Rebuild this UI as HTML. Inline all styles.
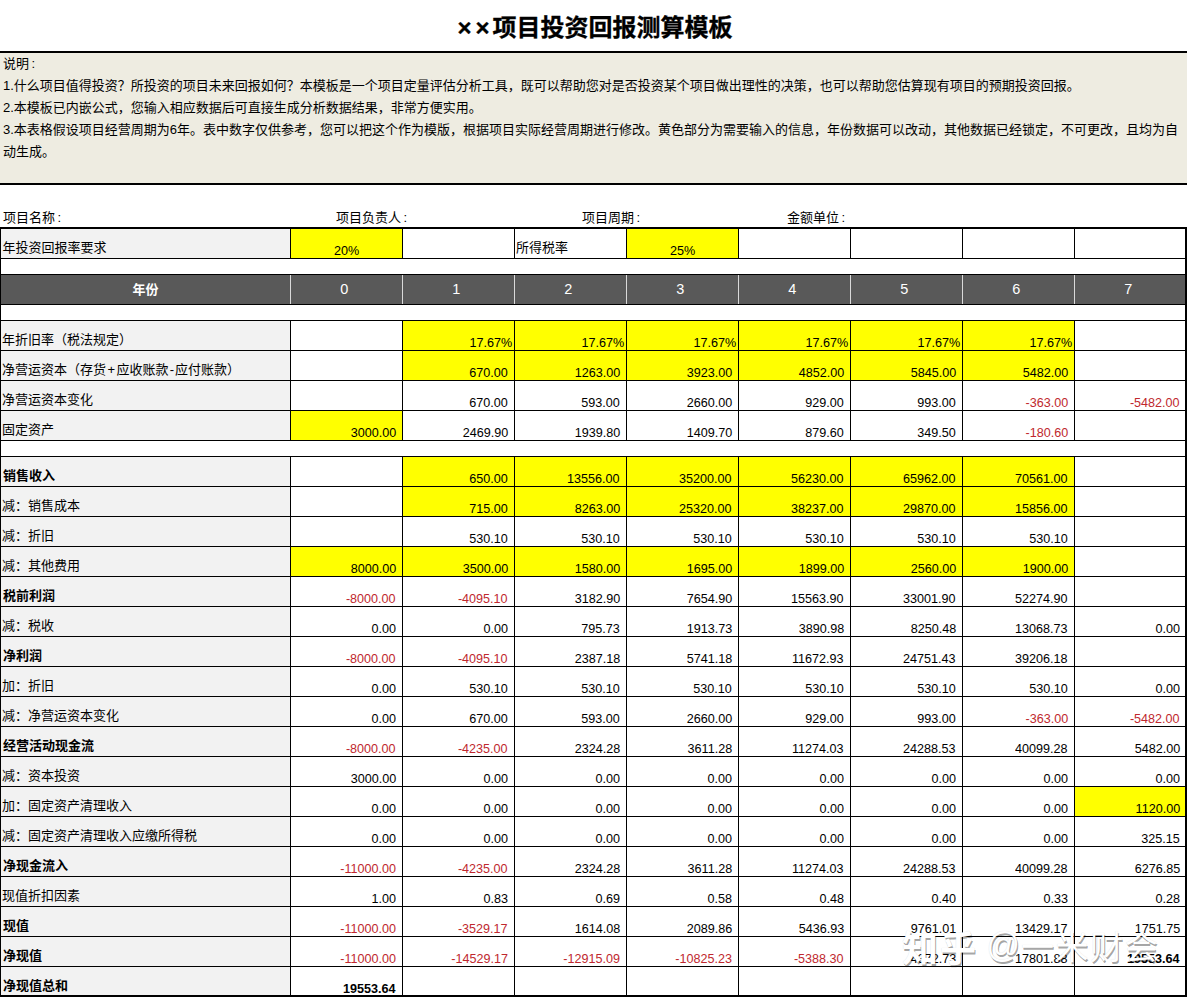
<!DOCTYPE html>
<html lang="zh-CN"><head><meta charset="utf-8"><title>××项目投资回报测算模板</title>
<style>
html,body{margin:0;padding:0;background:#fff}
body{width:1187px;height:997px;overflow:hidden;position:relative;font-family:"Liberation Sans","Noto Sans CJK SC",sans-serif;color:#000}
div,i{position:absolute;box-sizing:border-box;display:block}
.title{-webkit-text-stroke:.3px #000;left:0;top:9.5px;width:1187px;text-align:center;font-size:24px;font-weight:bold;line-height:36px;height:36px;padding-left:3px;white-space:nowrap}
.title .xx{letter-spacing:4px;margin-right:-1px}
.desc{left:0;top:51px;width:1187px;height:134px;background:#eeece1;border-top:2px solid #000;border-bottom:2px solid #000;font-size:13px;line-height:22px;padding:0 0 0 3px}
.desc .in{position:relative;top:-0.5px}
.desc p{margin:0;position:static}
.info{top:207.6px;height:20px;line-height:20px;font-size:13px;white-space:nowrap}
.lab{left:1px;width:289px;background:#f2f2f2;font-size:13px;line-height:20px;padding:9px 0 0 1px;white-space:nowrap;overflow:hidden}
.lab.wh{background:#fff}
.bd{font-weight:bold}
.lab.bd{padding-left:2px}
.co{margin-left:2.5px}.pl{margin:0 1.5px}.mi{margin:0 1px}
.num{font-size:13.33px;text-align:right;padding-right:6px;white-space:nowrap}
.num span{position:absolute;right:6.2px;bottom:-.5px;line-height:16px;transform:scaleX(.945);transform-origin:100% 50%}
.num.pc span{right:1.8px}
.num.ctr span{right:auto;left:0;width:100%;text-align:center;transform-origin:50% 50%}
.yel{background:#ffff00}
.red{color:#c0282e}
.hc{top:275px;height:29px;line-height:29px;text-align:center;color:#fff;font-size:13px}
.hn{font-size:14.5px;padding-right:3.4px}
.hc.bd{padding-left:1px}
.wm{left:0;top:0;width:1187px;height:997px;color:#fff;white-space:nowrap;text-shadow:1px 2px .6px rgba(0,0,0,.37),0 0 1px rgba(0,0,0,.14);pointer-events:none}
.wm span{position:absolute;display:block;line-height:44px;height:44px}
.wm .zh{left:902px;top:927.5px;font-size:36px;font-weight:bold;letter-spacing:2px}
.wm .at{left:986.5px;top:924px;font-size:33px;transform:scale(1,1.05);transform-origin:50% 70%}
.wm .nm{left:1021px;top:925.5px;font-size:33px;letter-spacing:1.6px}
</style></head>
<body>
<div class="title"><span class="xx">××</span>项目投资回报测算模板</div>
<div class="desc"><div class="in"><p>说明<span class="co">:</span></p><p>1.什么项目值得投资？所投资的项目未来回报如何？本模板是一个项目定量评估分析工具，既可以帮助您对是否投资某个项目做出理性的决策，也可以帮助您估算现有项目的预期投资回报。</p><p>2.本模板已内嵌公式，您输入相应数据后可直接生成分析数据结果，非常方便实用。</p><p>3.本表格假设项目经营周期为6年。表中数字仅供参考，您可以把这个作为模版，根据项目实际经营周期进行修改。黄色部分为需要输入的信息，年份数据可以改动，其他数据已经锁定，不可更改，且均为自动生成。</p></div></div>
<div class="info" style="left:3px">项目名称<span class="co">:</span></div>
<div class="info" style="left:336px">项目负责人<span class="co">:</span></div>
<div class="info" style="left:582px">项目周期<span class="co">:</span></div>
<div class="info" style="left:787px">金额单位<span class="co">:</span></div>
<div class="lab" style="top:229px;height:29px;padding-left:1.6px">年投资回报率要求</div>
<div class="num yel ctr" style="left:291px;top:229px;width:111px;height:29px"><span>20%</span></div>
<div class="lab wh" style="left:515px;top:229px;width:111px;height:29px">所得税率</div>
<div class="num yel ctr" style="left:627px;top:229px;width:111px;height:29px"><span>25%</span></div>
<i style="left:0px;top:258px;width:1186px;height:1px;background:#000"></i>
<i style="left:290px;top:229px;width:1px;height:29px;background:#000"></i>
<i style="left:402px;top:229px;width:1px;height:29px;background:#000"></i>
<i style="left:514px;top:229px;width:1px;height:29px;background:#000"></i>
<i style="left:626px;top:229px;width:1px;height:29px;background:#000"></i>
<i style="left:738px;top:229px;width:1px;height:29px;background:#000"></i>
<i style="left:850px;top:229px;width:1px;height:29px;background:#000"></i>
<i style="left:962px;top:229px;width:1px;height:29px;background:#000"></i>
<i style="left:1074px;top:229px;width:1px;height:29px;background:#000"></i>
<div class="hdr" style="left:0px;top:274px;width:1186px;height:31px;background:#595959;"></div>
<div class="hc bd" style="left:0;width:290px">年份</div>
<div class="hc hn" style="left:290px;width:112px">0</div>
<div class="hc hn" style="left:402px;width:112px">1</div>
<div class="hc hn" style="left:514px;width:112px">2</div>
<div class="hc hn" style="left:626px;width:112px">3</div>
<div class="hc hn" style="left:738px;width:112px">4</div>
<div class="hc hn" style="left:850px;width:112px">5</div>
<div class="hc hn" style="left:962px;width:112px">6</div>
<div class="hc hn" style="left:1074px;width:112px">7</div>
<i style="left:290px;top:275px;width:1px;height:29px;background:#d9d9d9"></i>
<i style="left:402px;top:275px;width:1px;height:29px;background:#d9d9d9"></i>
<i style="left:514px;top:275px;width:1px;height:29px;background:#d9d9d9"></i>
<i style="left:626px;top:275px;width:1px;height:29px;background:#d9d9d9"></i>
<i style="left:738px;top:275px;width:1px;height:29px;background:#d9d9d9"></i>
<i style="left:850px;top:275px;width:1px;height:29px;background:#d9d9d9"></i>
<i style="left:962px;top:275px;width:1px;height:29px;background:#d9d9d9"></i>
<i style="left:1074px;top:275px;width:1px;height:29px;background:#d9d9d9"></i>
<i style="left:0px;top:274px;width:1186px;height:1px;background:#000"></i>
<i style="left:0px;top:304px;width:1186px;height:1px;background:#000"></i>
<div class="lab" style="top:321px;height:29px">年折旧率（税法规定）</div>
<div class="num yel pc" style="left:403px;top:321px;width:111px;height:29px"><span>17.67%</span></div>
<div class="num yel pc" style="left:515px;top:321px;width:111px;height:29px"><span>17.67%</span></div>
<div class="num yel pc" style="left:627px;top:321px;width:111px;height:29px"><span>17.67%</span></div>
<div class="num yel pc" style="left:739px;top:321px;width:111px;height:29px"><span>17.67%</span></div>
<div class="num yel pc" style="left:851px;top:321px;width:111px;height:29px"><span>17.67%</span></div>
<div class="num yel pc" style="left:963px;top:321px;width:111px;height:29px"><span>17.67%</span></div>
<div class="lab" style="top:351px;height:29px">净营运资本（存货<span class="pl">+</span>应收账款<span class="mi">-</span>应付账款）</div>
<div class="num yel" style="left:403px;top:351px;width:111px;height:29px"><span>670.00</span></div>
<div class="num yel" style="left:515px;top:351px;width:111px;height:29px"><span>1263.00</span></div>
<div class="num yel" style="left:627px;top:351px;width:111px;height:29px"><span>3923.00</span></div>
<div class="num yel" style="left:739px;top:351px;width:111px;height:29px"><span>4852.00</span></div>
<div class="num yel" style="left:851px;top:351px;width:111px;height:29px"><span>5845.00</span></div>
<div class="num yel" style="left:963px;top:351px;width:111px;height:29px"><span>5482.00</span></div>
<div class="lab" style="top:381px;height:29px">净营运资本变化</div>
<div class="num" style="left:403px;top:381px;width:111px;height:29px"><span>670.00</span></div>
<div class="num" style="left:515px;top:381px;width:111px;height:29px"><span>593.00</span></div>
<div class="num" style="left:627px;top:381px;width:111px;height:29px"><span>2660.00</span></div>
<div class="num" style="left:739px;top:381px;width:111px;height:29px"><span>929.00</span></div>
<div class="num" style="left:851px;top:381px;width:111px;height:29px"><span>993.00</span></div>
<div class="num red" style="left:963px;top:381px;width:111px;height:29px"><span>-363.00</span></div>
<div class="num red" style="left:1075px;top:381px;width:111px;height:29px"><span>-5482.00</span></div>
<div class="lab" style="top:411px;height:29px">固定资产</div>
<div class="num yel" style="left:291px;top:411px;width:111px;height:29px"><span>3000.00</span></div>
<div class="num" style="left:403px;top:411px;width:111px;height:29px"><span>2469.90</span></div>
<div class="num" style="left:515px;top:411px;width:111px;height:29px"><span>1939.80</span></div>
<div class="num" style="left:627px;top:411px;width:111px;height:29px"><span>1409.70</span></div>
<div class="num" style="left:739px;top:411px;width:111px;height:29px"><span>879.60</span></div>
<div class="num" style="left:851px;top:411px;width:111px;height:29px"><span>349.50</span></div>
<div class="num red" style="left:963px;top:411px;width:111px;height:29px"><span>-180.60</span></div>
<i style="left:0px;top:320px;width:1186px;height:1px;background:#000"></i>
<i style="left:0px;top:350px;width:1186px;height:1px;background:#000"></i>
<i style="left:0px;top:380px;width:1186px;height:1px;background:#000"></i>
<i style="left:0px;top:410px;width:1186px;height:1px;background:#000"></i>
<i style="left:0px;top:440px;width:1186px;height:1px;background:#000"></i>
<i style="left:290px;top:320px;width:1px;height:121px;background:#000"></i>
<i style="left:402px;top:320px;width:1px;height:121px;background:#000"></i>
<i style="left:514px;top:320px;width:1px;height:121px;background:#000"></i>
<i style="left:626px;top:320px;width:1px;height:121px;background:#000"></i>
<i style="left:738px;top:320px;width:1px;height:121px;background:#000"></i>
<i style="left:850px;top:320px;width:1px;height:121px;background:#000"></i>
<i style="left:962px;top:320px;width:1px;height:121px;background:#000"></i>
<i style="left:1074px;top:320px;width:1px;height:121px;background:#000"></i>
<div class="lab bd" style="top:457px;height:29px">销售收入</div>
<div class="num yel" style="left:403px;top:457px;width:111px;height:29px"><span>650.00</span></div>
<div class="num yel" style="left:515px;top:457px;width:111px;height:29px"><span>13556.00</span></div>
<div class="num yel" style="left:627px;top:457px;width:111px;height:29px"><span>35200.00</span></div>
<div class="num yel" style="left:739px;top:457px;width:111px;height:29px"><span>56230.00</span></div>
<div class="num yel" style="left:851px;top:457px;width:111px;height:29px"><span>65962.00</span></div>
<div class="num yel" style="left:963px;top:457px;width:111px;height:29px"><span>70561.00</span></div>
<div class="lab" style="top:487px;height:29px">减：销售成本</div>
<div class="num yel" style="left:403px;top:487px;width:111px;height:29px"><span>715.00</span></div>
<div class="num yel" style="left:515px;top:487px;width:111px;height:29px"><span>8263.00</span></div>
<div class="num yel" style="left:627px;top:487px;width:111px;height:29px"><span>25320.00</span></div>
<div class="num yel" style="left:739px;top:487px;width:111px;height:29px"><span>38237.00</span></div>
<div class="num yel" style="left:851px;top:487px;width:111px;height:29px"><span>29870.00</span></div>
<div class="num yel" style="left:963px;top:487px;width:111px;height:29px"><span>15856.00</span></div>
<div class="lab" style="top:517px;height:29px">减：折旧</div>
<div class="num" style="left:403px;top:517px;width:111px;height:29px"><span>530.10</span></div>
<div class="num" style="left:515px;top:517px;width:111px;height:29px"><span>530.10</span></div>
<div class="num" style="left:627px;top:517px;width:111px;height:29px"><span>530.10</span></div>
<div class="num" style="left:739px;top:517px;width:111px;height:29px"><span>530.10</span></div>
<div class="num" style="left:851px;top:517px;width:111px;height:29px"><span>530.10</span></div>
<div class="num" style="left:963px;top:517px;width:111px;height:29px"><span>530.10</span></div>
<div class="lab" style="top:547px;height:29px">减：其他费用</div>
<div class="num yel" style="left:291px;top:547px;width:111px;height:29px"><span>8000.00</span></div>
<div class="num yel" style="left:403px;top:547px;width:111px;height:29px"><span>3500.00</span></div>
<div class="num yel" style="left:515px;top:547px;width:111px;height:29px"><span>1580.00</span></div>
<div class="num yel" style="left:627px;top:547px;width:111px;height:29px"><span>1695.00</span></div>
<div class="num yel" style="left:739px;top:547px;width:111px;height:29px"><span>1899.00</span></div>
<div class="num yel" style="left:851px;top:547px;width:111px;height:29px"><span>2560.00</span></div>
<div class="num yel" style="left:963px;top:547px;width:111px;height:29px"><span>1900.00</span></div>
<div class="lab bd" style="top:577px;height:29px">税前利润</div>
<div class="num red" style="left:291px;top:577px;width:111px;height:29px"><span>-8000.00</span></div>
<div class="num red" style="left:403px;top:577px;width:111px;height:29px"><span>-4095.10</span></div>
<div class="num" style="left:515px;top:577px;width:111px;height:29px"><span>3182.90</span></div>
<div class="num" style="left:627px;top:577px;width:111px;height:29px"><span>7654.90</span></div>
<div class="num" style="left:739px;top:577px;width:111px;height:29px"><span>15563.90</span></div>
<div class="num" style="left:851px;top:577px;width:111px;height:29px"><span>33001.90</span></div>
<div class="num" style="left:963px;top:577px;width:111px;height:29px"><span>52274.90</span></div>
<div class="lab" style="top:607px;height:29px">减：税收</div>
<div class="num" style="left:291px;top:607px;width:111px;height:29px"><span>0.00</span></div>
<div class="num" style="left:403px;top:607px;width:111px;height:29px"><span>0.00</span></div>
<div class="num" style="left:515px;top:607px;width:111px;height:29px"><span>795.73</span></div>
<div class="num" style="left:627px;top:607px;width:111px;height:29px"><span>1913.73</span></div>
<div class="num" style="left:739px;top:607px;width:111px;height:29px"><span>3890.98</span></div>
<div class="num" style="left:851px;top:607px;width:111px;height:29px"><span>8250.48</span></div>
<div class="num" style="left:963px;top:607px;width:111px;height:29px"><span>13068.73</span></div>
<div class="num" style="left:1075px;top:607px;width:111px;height:29px"><span>0.00</span></div>
<div class="lab bd" style="top:637px;height:29px">净利润</div>
<div class="num red" style="left:291px;top:637px;width:111px;height:29px"><span>-8000.00</span></div>
<div class="num red" style="left:403px;top:637px;width:111px;height:29px"><span>-4095.10</span></div>
<div class="num" style="left:515px;top:637px;width:111px;height:29px"><span>2387.18</span></div>
<div class="num" style="left:627px;top:637px;width:111px;height:29px"><span>5741.18</span></div>
<div class="num" style="left:739px;top:637px;width:111px;height:29px"><span>11672.93</span></div>
<div class="num" style="left:851px;top:637px;width:111px;height:29px"><span>24751.43</span></div>
<div class="num" style="left:963px;top:637px;width:111px;height:29px"><span>39206.18</span></div>
<div class="lab" style="top:667px;height:29px">加：折旧</div>
<div class="num" style="left:291px;top:667px;width:111px;height:29px"><span>0.00</span></div>
<div class="num" style="left:403px;top:667px;width:111px;height:29px"><span>530.10</span></div>
<div class="num" style="left:515px;top:667px;width:111px;height:29px"><span>530.10</span></div>
<div class="num" style="left:627px;top:667px;width:111px;height:29px"><span>530.10</span></div>
<div class="num" style="left:739px;top:667px;width:111px;height:29px"><span>530.10</span></div>
<div class="num" style="left:851px;top:667px;width:111px;height:29px"><span>530.10</span></div>
<div class="num" style="left:963px;top:667px;width:111px;height:29px"><span>530.10</span></div>
<div class="num" style="left:1075px;top:667px;width:111px;height:29px"><span>0.00</span></div>
<div class="lab" style="top:697px;height:29px">减：净营运资本变化</div>
<div class="num" style="left:291px;top:697px;width:111px;height:29px"><span>0.00</span></div>
<div class="num" style="left:403px;top:697px;width:111px;height:29px"><span>670.00</span></div>
<div class="num" style="left:515px;top:697px;width:111px;height:29px"><span>593.00</span></div>
<div class="num" style="left:627px;top:697px;width:111px;height:29px"><span>2660.00</span></div>
<div class="num" style="left:739px;top:697px;width:111px;height:29px"><span>929.00</span></div>
<div class="num" style="left:851px;top:697px;width:111px;height:29px"><span>993.00</span></div>
<div class="num red" style="left:963px;top:697px;width:111px;height:29px"><span>-363.00</span></div>
<div class="num red" style="left:1075px;top:697px;width:111px;height:29px"><span>-5482.00</span></div>
<div class="lab bd" style="top:727px;height:29px">经营活动现金流</div>
<div class="num red" style="left:291px;top:727px;width:111px;height:29px"><span>-8000.00</span></div>
<div class="num red" style="left:403px;top:727px;width:111px;height:29px"><span>-4235.00</span></div>
<div class="num" style="left:515px;top:727px;width:111px;height:29px"><span>2324.28</span></div>
<div class="num" style="left:627px;top:727px;width:111px;height:29px"><span>3611.28</span></div>
<div class="num" style="left:739px;top:727px;width:111px;height:29px"><span>11274.03</span></div>
<div class="num" style="left:851px;top:727px;width:111px;height:29px"><span>24288.53</span></div>
<div class="num" style="left:963px;top:727px;width:111px;height:29px"><span>40099.28</span></div>
<div class="num" style="left:1075px;top:727px;width:111px;height:29px"><span>5482.00</span></div>
<div class="lab" style="top:757px;height:29px">减：资本投资</div>
<div class="num" style="left:291px;top:757px;width:111px;height:29px"><span>3000.00</span></div>
<div class="num" style="left:403px;top:757px;width:111px;height:29px"><span>0.00</span></div>
<div class="num" style="left:515px;top:757px;width:111px;height:29px"><span>0.00</span></div>
<div class="num" style="left:627px;top:757px;width:111px;height:29px"><span>0.00</span></div>
<div class="num" style="left:739px;top:757px;width:111px;height:29px"><span>0.00</span></div>
<div class="num" style="left:851px;top:757px;width:111px;height:29px"><span>0.00</span></div>
<div class="num" style="left:963px;top:757px;width:111px;height:29px"><span>0.00</span></div>
<div class="num" style="left:1075px;top:757px;width:111px;height:29px"><span>0.00</span></div>
<div class="lab" style="top:787px;height:29px">加：固定资产清理收入</div>
<div class="num" style="left:291px;top:787px;width:111px;height:29px"><span>0.00</span></div>
<div class="num" style="left:403px;top:787px;width:111px;height:29px"><span>0.00</span></div>
<div class="num" style="left:515px;top:787px;width:111px;height:29px"><span>0.00</span></div>
<div class="num" style="left:627px;top:787px;width:111px;height:29px"><span>0.00</span></div>
<div class="num" style="left:739px;top:787px;width:111px;height:29px"><span>0.00</span></div>
<div class="num" style="left:851px;top:787px;width:111px;height:29px"><span>0.00</span></div>
<div class="num" style="left:963px;top:787px;width:111px;height:29px"><span>0.00</span></div>
<div class="num yel" style="left:1075px;top:787px;width:111px;height:29px"><span>1120.00</span></div>
<div class="lab" style="top:817px;height:29px">减：固定资产清理收入应缴所得税</div>
<div class="num" style="left:291px;top:817px;width:111px;height:29px"><span>0.00</span></div>
<div class="num" style="left:403px;top:817px;width:111px;height:29px"><span>0.00</span></div>
<div class="num" style="left:515px;top:817px;width:111px;height:29px"><span>0.00</span></div>
<div class="num" style="left:627px;top:817px;width:111px;height:29px"><span>0.00</span></div>
<div class="num" style="left:739px;top:817px;width:111px;height:29px"><span>0.00</span></div>
<div class="num" style="left:851px;top:817px;width:111px;height:29px"><span>0.00</span></div>
<div class="num" style="left:963px;top:817px;width:111px;height:29px"><span>0.00</span></div>
<div class="num" style="left:1075px;top:817px;width:111px;height:29px"><span>325.15</span></div>
<div class="lab bd" style="top:847px;height:29px">净现金流入</div>
<div class="num red" style="left:291px;top:847px;width:111px;height:29px"><span>-11000.00</span></div>
<div class="num red" style="left:403px;top:847px;width:111px;height:29px"><span>-4235.00</span></div>
<div class="num" style="left:515px;top:847px;width:111px;height:29px"><span>2324.28</span></div>
<div class="num" style="left:627px;top:847px;width:111px;height:29px"><span>3611.28</span></div>
<div class="num" style="left:739px;top:847px;width:111px;height:29px"><span>11274.03</span></div>
<div class="num" style="left:851px;top:847px;width:111px;height:29px"><span>24288.53</span></div>
<div class="num" style="left:963px;top:847px;width:111px;height:29px"><span>40099.28</span></div>
<div class="num" style="left:1075px;top:847px;width:111px;height:29px"><span>6276.85</span></div>
<div class="lab" style="top:877px;height:29px">现值折扣因素</div>
<div class="num" style="left:291px;top:877px;width:111px;height:29px"><span>1.00</span></div>
<div class="num" style="left:403px;top:877px;width:111px;height:29px"><span>0.83</span></div>
<div class="num" style="left:515px;top:877px;width:111px;height:29px"><span>0.69</span></div>
<div class="num" style="left:627px;top:877px;width:111px;height:29px"><span>0.58</span></div>
<div class="num" style="left:739px;top:877px;width:111px;height:29px"><span>0.48</span></div>
<div class="num" style="left:851px;top:877px;width:111px;height:29px"><span>0.40</span></div>
<div class="num" style="left:963px;top:877px;width:111px;height:29px"><span>0.33</span></div>
<div class="num" style="left:1075px;top:877px;width:111px;height:29px"><span>0.28</span></div>
<div class="lab bd" style="top:907px;height:29px">现值</div>
<div class="num red" style="left:291px;top:907px;width:111px;height:29px"><span>-11000.00</span></div>
<div class="num red" style="left:403px;top:907px;width:111px;height:29px"><span>-3529.17</span></div>
<div class="num" style="left:515px;top:907px;width:111px;height:29px"><span>1614.08</span></div>
<div class="num" style="left:627px;top:907px;width:111px;height:29px"><span>2089.86</span></div>
<div class="num" style="left:739px;top:907px;width:111px;height:29px"><span>5436.93</span></div>
<div class="num" style="left:851px;top:907px;width:111px;height:29px"><span>9761.01</span></div>
<div class="num" style="left:963px;top:907px;width:111px;height:29px"><span>13429.17</span></div>
<div class="num" style="left:1075px;top:907px;width:111px;height:29px"><span>1751.75</span></div>
<div class="lab bd" style="top:937px;height:29px">净现值</div>
<div class="num red" style="left:291px;top:937px;width:111px;height:29px"><span>-11000.00</span></div>
<div class="num red" style="left:403px;top:937px;width:111px;height:29px"><span>-14529.17</span></div>
<div class="num red" style="left:515px;top:937px;width:111px;height:29px"><span>-12915.09</span></div>
<div class="num red" style="left:627px;top:937px;width:111px;height:29px"><span>-10825.23</span></div>
<div class="num red" style="left:739px;top:937px;width:111px;height:29px"><span>-5388.30</span></div>
<div class="num" style="left:851px;top:937px;width:111px;height:29px"><span>4372.73</span></div>
<div class="num" style="left:963px;top:937px;width:111px;height:29px"><span>17801.88</span></div>
<div class="num bd" style="left:1075px;top:937px;width:111px;height:29px"><span>19553.64</span></div>
<div class="lab bd" style="top:967px;height:29px">净现值总和</div>
<div class="num bd" style="left:291px;top:967px;width:111px;height:29px"><span>19553.64</span></div>
<i style="left:0px;top:456px;width:1186px;height:1px;background:#000"></i>
<i style="left:0px;top:486px;width:1186px;height:1px;background:#000"></i>
<i style="left:0px;top:516px;width:1186px;height:1px;background:#000"></i>
<i style="left:0px;top:546px;width:1186px;height:1px;background:#000"></i>
<i style="left:0px;top:576px;width:1186px;height:1px;background:#000"></i>
<i style="left:0px;top:606px;width:1186px;height:1px;background:#000"></i>
<i style="left:0px;top:636px;width:1186px;height:1px;background:#000"></i>
<i style="left:0px;top:666px;width:1186px;height:1px;background:#000"></i>
<i style="left:0px;top:696px;width:1186px;height:1px;background:#000"></i>
<i style="left:0px;top:726px;width:1186px;height:1px;background:#000"></i>
<i style="left:0px;top:756px;width:1186px;height:1px;background:#000"></i>
<i style="left:0px;top:786px;width:1186px;height:1px;background:#000"></i>
<i style="left:0px;top:816px;width:1186px;height:1px;background:#000"></i>
<i style="left:0px;top:846px;width:1186px;height:1px;background:#000"></i>
<i style="left:0px;top:876px;width:1186px;height:1px;background:#000"></i>
<i style="left:0px;top:906px;width:1186px;height:1px;background:#000"></i>
<i style="left:0px;top:936px;width:1186px;height:1px;background:#000"></i>
<i style="left:0px;top:966px;width:1186px;height:1px;background:#000"></i>
<i style="left:0px;top:996px;width:1186px;height:1px;background:#000"></i>
<i style="left:290px;top:456px;width:1px;height:541px;background:#000"></i>
<i style="left:402px;top:456px;width:1px;height:541px;background:#000"></i>
<i style="left:514px;top:456px;width:1px;height:541px;background:#000"></i>
<i style="left:626px;top:456px;width:1px;height:541px;background:#000"></i>
<i style="left:738px;top:456px;width:1px;height:541px;background:#000"></i>
<i style="left:850px;top:456px;width:1px;height:541px;background:#000"></i>
<i style="left:962px;top:456px;width:1px;height:541px;background:#000"></i>
<i style="left:1074px;top:456px;width:1px;height:541px;background:#000"></i>
<i style="left:0px;top:227px;width:1187px;height:2px;background:#000"></i>
<i style="left:0px;top:995px;width:1187px;height:2px;background:#000"></i>
<i style="left:0px;top:227px;width:1px;height:770px;background:#000"></i>
<i style="left:1185px;top:227px;width:2px;height:770px;background:#000"></i>
<div class="wm"><span class="zh">知乎</span><span class="at">@</span><span class="nm">一米财会</span></div>
</body></html>
